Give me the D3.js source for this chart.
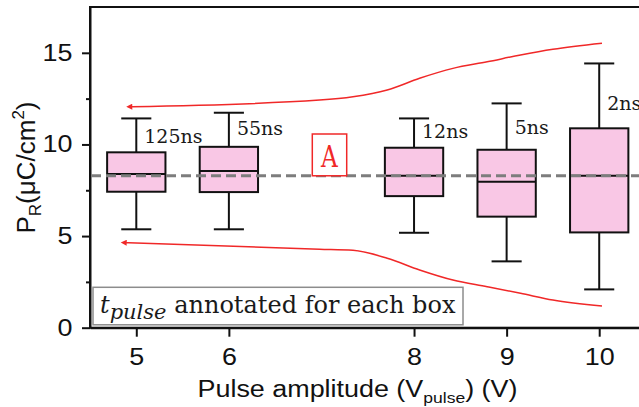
<!DOCTYPE html>
<html>
<head>
<meta charset="utf-8">
<script src="https://cdn.jsdelivr.net/npm/d3@7"></script>
<style>
  body { margin: 0; background: #fff; }
  svg { display: block; }
</style>
</head>
<body>
<svg id="chart" width="639" height="407"></svg>
<script>
// Box statistics, one entry per pulse amplitude.
var amplitudes = [5, 6, 8, 9, 10];
var whiskerLow = [5.37, 5.37, 5.18, 3.62, 2.09];
var quartile1 = [7.42, 7.40, 7.18, 6.06, 5.20];
var medians = [8.39, 8.55, 8.29, 7.97, 8.29];
var quartile3 = [9.57, 9.87, 9.82, 9.71, 10.88];
var whiskerHigh = [11.42, 11.73, 11.42, 12.24, 14.42];
var pulseLabels = ["125ns", "55ns", "12ns", "5ns", "2ns"];
var pulseLabelY = [10.08, 10.51, 10.37, 10.57, 11.88];

var meanLevel = 8.29;
var yTicks = [0, 5, 10, 15];
var yMinorTicks = [2.5, 7.5, 12.5];

// the two red "spread" guides, in data units (x = V, y = uC/cm2)
var upperGuide = [[4.95, 12.06], [6.98, 12.42], [7.34, 12.60], [7.71, 12.97], [8.06, 13.61],
  [8.42, 14.15], [8.79, 14.51], [9.15, 14.88], [9.50, 15.19], [10.03, 15.52]];
var lowerGuide = [[4.89, 4.64], [6.98, 4.28], [7.34, 4.22], [7.71, 3.79], [8.06, 3.15],
  [8.42, 2.60], [8.79, 2.24], [9.15, 1.88], [9.50, 1.51], [10.03, 1.18]];

var boxes = amplitudes.map(function(a, i){
  return {x: a, lo: whiskerLow[i], q1: quartile1[i], med: medians[i],
    q3: quartile3[i], hi: whiskerHigh[i], label: pulseLabels[i], labelY: pulseLabelY[i]};
});

var svg = d3.select("#chart");
// ("top" is taken by window.top, hence the longer names)
var plotLeft = 90, plotRight = 645.5, plotTop = 7, plotBottom = 327.7;
var stretch = 1.17; // the sans text in the figure is a bit wide

var x = d3.scaleLinear().domain([4.5, 10.5]).range([plotLeft, plotRight]);
var y = d3.scaleLinear().domain([0, 17.5]).range([plotBottom, plotTop]);

var boxWidth = 0.63, capWidth = 0.325;
var red = "#f02828";

svg.append("defs").append("marker")
  .attr("id", "arrow")
  .attr("viewBox", "0 0 10 10")
  .attr("refX", 1).attr("refY", 5)
  .attr("markerWidth", 9).attr("markerHeight", 6)
  .attr("markerUnits", "userSpaceOnUse")
  .attr("orient", "auto-start-reverse")
  .append("path")
  .attr("d", "M0,0L10,5L0,10z")
  .attr("fill", red);

// frame (right side falls just outside the picture)
svg.append("rect")
  .attr("x", plotLeft).attr("y", plotTop)
  .attr("width", plotRight - plotLeft).attr("height", plotBottom - plotTop)
  .attr("fill", "none").attr("stroke", "#111").attr("stroke-width", 2);

// axes
var yAxis = svg.append("g")
  .attr("transform", "translate(" + plotLeft + ",0)")
  .call(d3.axisLeft(y).tickValues(yTicks).tickSize(8).tickSizeOuter(0).tickFormat(d3.format("d")));
svg.append("g")
  .attr("transform", "translate(" + plotLeft + ",0)")
  .call(d3.axisLeft(y).tickValues(yMinorTicks).tickSize(4).tickSizeOuter(0).tickFormat(""))
  .select(".domain").remove();
var xAxis = svg.append("g")
  .attr("transform", "translate(0," + plotBottom + ")")
  .call(d3.axisBottom(x).tickValues(amplitudes).tickSize(9).tickSizeOuter(0).tickFormat(d3.format("d")));

svg.selectAll(".domain").attr("stroke", "#111").attr("stroke-width", 2);
svg.selectAll(".tick line").attr("stroke", "#111").attr("stroke-width", 2);
svg.selectAll(".tick text")
  .attr("font-family", "Liberation Sans, Arial, sans-serif")
  .attr("font-size", 23)
  .attr("fill", "#111");
yAxis.selectAll(".tick text")
  .attr("x", -17.5 / stretch)
  .attr("transform", "scale(" + stretch + ",1)");
xAxis.selectAll(".tick text")
  .attr("y", 37).attr("dy", 0)
  .attr("transform", "scale(" + stretch + ",1)");

// axis titles
var xTitle = svg.append("text")
  .attr("transform", "translate(357.5,396.7) scale(" + stretch + ",1)")
  .attr("text-anchor", "middle")
  .attr("font-family", "Liberation Sans, Arial, sans-serif")
  .attr("font-size", 23)
  .attr("fill", "#111");
xTitle.append("tspan").text("Pulse amplitude (V");
xTitle.append("tspan").attr("font-size", 15).attr("dy", 6).text("pulse");
xTitle.append("tspan").attr("dy", -6).text(") (V)");

var yTitle = svg.append("text")
  .attr("transform", "translate(35,167.5) rotate(-90)")
  .attr("text-anchor", "middle")
  .attr("font-family", "Liberation Sans, Arial, sans-serif")
  .attr("font-size", 26)
  .attr("fill", "#111");
yTitle.append("tspan").text("P");
yTitle.append("tspan").attr("font-size", 17).attr("dy", 6).text("R");
yTitle.append("tspan").attr("dy", -6).text("(\u03bcC/cm");
yTitle.append("tspan").attr("font-size", 17).attr("dy", -11).text("2");
yTitle.append("tspan").attr("dy", 11).text(")");

// red guides with arrow heads at their left ends
var guide = d3.line()
  .x(function(d){return x(d[0]);})
  .y(function(d){return y(d[1]);})
  .curve(d3.curveMonotoneX);
svg.selectAll("path.guide")
  .data([upperGuide, lowerGuide])
  .enter()
  .append("path")
  .attr("class", "guide")
  .attr("d", guide)
  .attr("fill", "none")
  .attr("stroke", red)
  .attr("stroke-width", 1.5)
  .attr("marker-start", "url(#arrow)");

// box plots
var box = svg.selectAll("g.box")
  .data(boxes)
  .enter()
  .append("g")
  .attr("class", "box")
  .attr("stroke", "#111")
  .attr("stroke-width", 2);

box.append("line")
  .attr("x1", function(d){return x(d.x);})
  .attr("x2", function(d){return x(d.x);})
  .attr("y1", function(d){return y(d.hi);})
  .attr("y2", function(d){return y(d.lo);});
box.selectAll("line.cap")
  .data(function(d){return [{x: d.x, v: d.hi}, {x: d.x, v: d.lo}];})
  .enter()
  .append("line")
  .attr("class", "cap")
  .attr("x1", function(d){return x(d.x - capWidth / 2);})
  .attr("x2", function(d){return x(d.x + capWidth / 2);})
  .attr("y1", function(d){return y(d.v);})
  .attr("y2", function(d){return y(d.v);});
box.append("rect")
  .attr("x", function(d){return x(d.x - boxWidth / 2);})
  .attr("width", x(boxWidth) - x(0))
  .attr("y", function(d){return y(d.q3);})
  .attr("height", function(d){return y(d.q1) - y(d.q3);})
  .attr("fill", "#f9c7e5");
box.append("line")
  .attr("x1", function(d){return x(d.x - boxWidth / 2);})
  .attr("x2", function(d){return x(d.x + boxWidth / 2);})
  .attr("y1", function(d){return y(d.med);})
  .attr("y2", function(d){return y(d.med);});

svg.selectAll("text.pulse")
  .data(boxes)
  .enter()
  .append("text")
  .attr("class", "pulse")
  .attr("x", function(d){return x(d.x) + 8;})
  .attr("y", function(d){return y(d.labelY);})
  .attr("font-family", "DejaVu Serif, serif")
  .attr("font-size", 19)
  .attr("fill", "#1a1a1a")
  .text(function(d){return d.label;});

// mean level, drawn over the boxes
svg.append("line")
  .attr("x1", plotLeft + 1).attr("x2", plotRight)
  .attr("y1", y(meanLevel)).attr("y2", y(meanLevel))
  .attr("stroke", "#7d7d7d")
  .attr("stroke-width", 3)
  .attr("stroke-dasharray", "10,5");

// "A" tag sitting on the mean line
svg.append("rect")
  .attr("x", 312.3).attr("y", 134)
  .attr("width", 34.4).attr("height", y(meanLevel) - 134)
  .attr("fill", "#fff")
  .attr("stroke", red).attr("stroke-width", 1.5);
svg.append("text")
  .attr("transform", "translate(329.5,166.5) scale(0.8,1)")
  .attr("text-anchor", "middle")
  .attr("font-family", "DejaVu Serif, serif")
  .attr("font-size", 29)
  .attr("fill", red)
  .text("A");

// note box in the lower left corner
svg.append("rect")
  .attr("x", 93).attr("y", 287.3)
  .attr("width", 370).attr("height", 37.5)
  .attr("fill", "#fff")
  .attr("stroke", "#8c8c8c").attr("stroke-width", 1.5);
var note = svg.append("text")
  .attr("x", 100).attr("y", 313)
  .attr("font-family", "DejaVu Serif, serif")
  .attr("font-size", 24)
  .attr("fill", "#1a1a1a");
note.append("tspan").attr("font-style", "italic").text("t");
note.append("tspan").attr("font-style", "italic").attr("font-size", 21).attr("dy", 6).text("pulse");
note.append("tspan").attr("dy", -6).text(" annotated for each box");
</script>
</body>
</html>
